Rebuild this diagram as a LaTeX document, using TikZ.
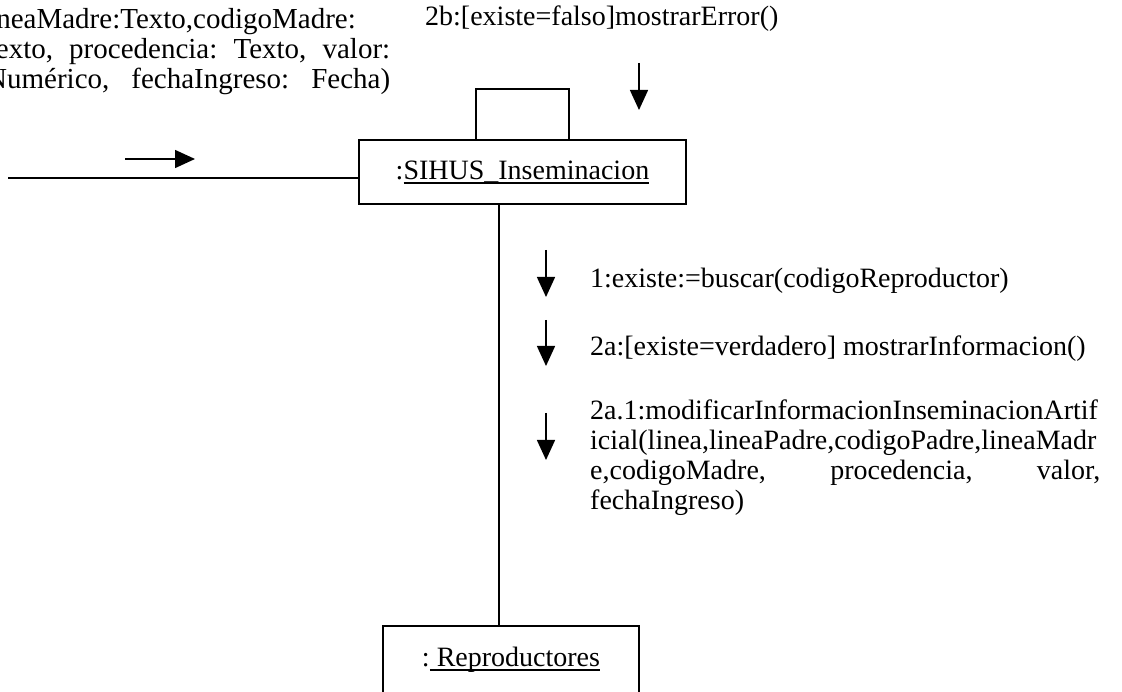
\documentclass[tikz,border=0pt]{standalone}
\usepackage{fontspec}
\setmainfont{Liberation Serif}
\usetikzlibrary{arrows.meta}
\newcommand{\undl}[1]{\setbox0\hbox{#1}\rlap{\rule[-4.5pt]{\wd0}{1.8pt}}\box0}
\newcommand{\spread}[2]{\leavevmode\hbox to #1{#2}}

\begin{document}
\begin{tikzpicture}[x=1pt,y=-1pt,font=\fontsize{28}{30}\selectfont,line/.style={line width=1.8pt},msg/.style={line width=1.5pt,-{Triangle[length=20pt,width=18pt]}},obj/.style={draw,line width=1.8pt,inner sep=0pt},lbl/.style={inner sep=0pt,anchor=base west}]
\useasboundingbox[fill=white] (0,0) rectangle (1122,692);
\node[lbl,text width=410pt,align=left,font=\fontsize{29}{30}\selectfont] (sig) at (-20,29) {lineaMadre:Texto,codigoMadre:\\\spread{410pt}{Texto,\hfill procedencia:\hfill Texto,\hfill valor:}\\\hspace*{6pt}\spread{404pt}{Numérico,\hfill fechaIngreso:\hfill Fecha)}};
\node[lbl] (err) at (425,26) {2b:[existe=falso]mostrarError()};
\node[obj,minimum width=327pt,minimum height=64pt] (sihus) at (522.5,172) {:\undl{SIHUS\_Inseminacion}};
\node[obj,minimum width=256pt,minimum height=68pt] (rep) at (511,660) {:\undl{ Reproductores}};
\coordinate (loopL) at (476,89);
\coordinate (loopR) at (569,89);
\draw[line] (loopL |- sihus.north) -- (loopL) -- (loopR) -- (loopR |- sihus.north);
\coordinate (src) at (8,178);
\draw[line] (src) -- (src -| sihus.west);
\coordinate (inA) at (125,159);
\coordinate (inB) at (195,159);
\draw[msg] (inA) -- (inB);
\coordinate (errA) at (639,63);
\coordinate (errB) at (639,110);
\draw[msg] (errA) -- (errB);
\coordinate (life) at (499,400);
\draw[line] (life |- sihus.south) -- (life |- rep.north);
\foreach \n/\t/\b in {1/250/297,2/320/366,3/413/460}{\coordinate (m\n top) at (546,\t); \coordinate (m\n tip) at (546,\b); \draw[msg] (m\n top) -- (m\n tip);}
\node[lbl] (m1) at (590,288) {1:existe:=buscar(codigoReproductor)};
\node[lbl] (m2) at (590,356) {2a:[existe=verdadero] mostrarInformacion()};
\node[lbl,text width=510pt,align=left] (m3) at (590,420) {2a.1:modificarInformacionInseminacionArtif\\icial(linea,lineaPadre,codigoPadre,lineaMadr\\\spread{510pt}{e,codigoMadre,\hfill procedencia,\hfill valor,}\\fechaIngreso)};
\end{tikzpicture}
\end{document}
